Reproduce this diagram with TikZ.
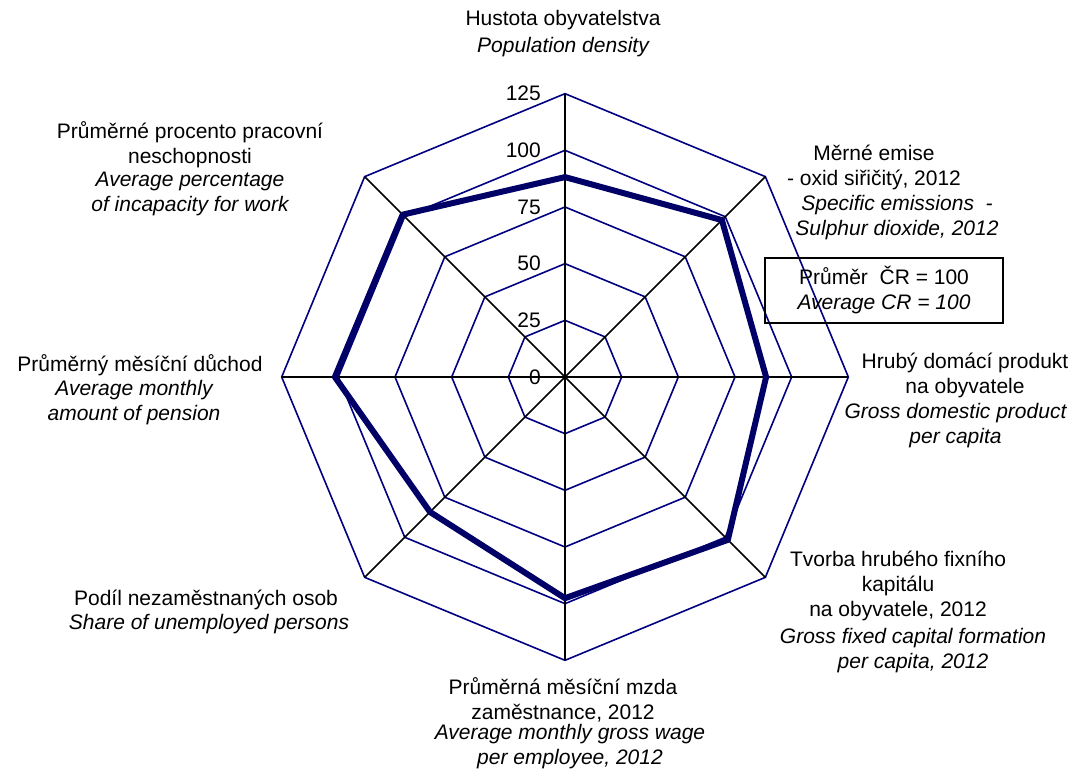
\documentclass[tikz,border=0pt]{standalone}
\usepackage{fontspec}
\setmainfont{Liberation Sans}
\definecolor{gridnavy}{HTML}{000080}
\definecolor{datanavy}{HTML}{000066}
\begin{document}
\begin{tikzpicture}[x=1pt,y=1pt,
  gridline/.style={draw=gridnavy,line width=1.6pt,line join=miter},
  axisline/.style={draw=black,line width=1.6pt},
  dataline/.style={draw=datanavy,line width=6pt,line join=round},
  lbl/.style={font=\fontsize{21}{25}\selectfont,align=center,inner sep=0pt},
  lbli/.style={font=\fontsize{21}{25}\selectfont\itshape,align=center,inner sep=0pt},
  ticklbl/.style={font=\fontsize{21}{25}\selectfont,anchor=east,inner sep=0pt},
  legendbox/.style={draw=black,line width=1.8pt,minimum width=238pt,minimum height=65pt,inner sep=0pt,align=center,font=\fontsize{21}{25}\selectfont}]
\useasboundingbox (0,0) rectangle (1078,769);
\begin{scope}[shift={(565,392)}]
\foreach \L/\r in {25/56.67,50/113.33,75/170,100/226.67,125/283.33}{
  \draw[gridline] (90:\r) -- (45:\r) -- (0:\r) -- (-45:\r) -- (-90:\r) -- (-135:\r) -- (180:\r) -- (135:\r) -- cycle;
}
\foreach \a in {0,45,...,315}{
  \draw[axisline] (0,0) -- (\a:283.33);
}
\foreach \L/\r in {0/0,25/56.67,50/113.33,75/170,100/226.67,125/283.33}{
  \node[ticklbl] (t\L) at (-24,\r) {\L};
}
\draw[dataline] (90:199.9) -- (45:221.9) -- (0:201.1) -- (-45:230.3) -- (-90:221.2) -- (-135:190.9) -- (180:230.1) -- (135:229.6) -- cycle;
\end{scope}
% labels (y = 769 - pixel row)
\node[lbl] (topcz) at (563,749) {Hustota obyvatelstva};
\node[lbli] (topen) at (563,722) {Population density};
\node[lbl] (trcz) at (874,601.5) {Měrné emise\\- oxid siřičitý, 2012};
\node[lbli] (tren) at (897,551.5) {Specific emissions \ -\\Sulphur dioxide, 2012};
\node[legendbox] (legend) at (884,478.5) {Průměr \ ČR = 100\\\textit{Average CR = 100}};
\node[lbl] (rcz) at (965,393.5) {Hrubý domácí produkt\\na obyvatele};
\node[lbli] (ren) at (955.5,343.5) {Gross domestic product\\per capita};
\node[lbl] (brcz) at (898,183) {Tvorba hrubého fixního\\kapitálu\\na obyvatele, 2012};
\node[lbli] (bren) at (913,118.5) {Gross fixed capital formation\\per capita, 2012};
\node[lbl] (bcz) at (563,69) {Průměrná měsíční mzda\\zaměstnance, 2012};
\node[lbli] (ben) at (570,22) {Average monthly gross wage\\per employee, 2012};
\node[lbl] (blcz) at (206,169) {Podíl nezaměstnaných osob};
\node[lbli] (blen) at (209,145) {Share of unemployed persons};
\node[lbl] (lcz) at (140,404) {Průměrný měsíční důchod};
\node[lbli] (len) at (134,366) {Average monthly\\amount of pension};
\node[lbl] (tlcz) at (190,624.5) {Průměrné procento pracovní\\neschopnosti};
\node[lbli] (tlen) at (190,575.5) {Average percentage\\of incapacity for work};
\end{tikzpicture}
\end{document}
